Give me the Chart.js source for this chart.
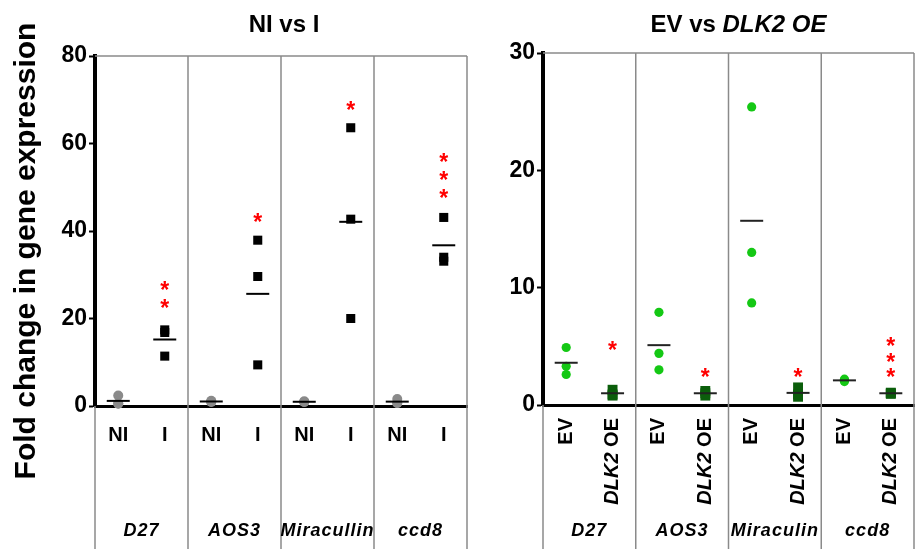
<!DOCTYPE html>
<html>
<head>
<meta charset="utf-8">
<script src="https://cdn.jsdelivr.net/npm/chart.js@4.4.0/dist/chart.umd.min.js"></script>
<style>
  body { margin: 0; background: #fff; }
  #painel { position: relative; width: 916px; height: 549px; }
  #painel canvas { position: absolute; top: 0; }
</style>
</head>
<body>
<div id="painel">
  <canvas id="graficoNI" width="470" height="549" style="left:0"></canvas>
  <canvas id="graficoEV" width="446" height="549" style="left:470px"></canvas>
</div>
<script>
const genesNI = ['D27', 'AOS3', 'Miracullin', 'ccd8'];
const genesEV = ['D27', 'AOS3', 'Miraculin', 'ccd8'];
const gruposNI = ['NI', 'I'];
const gruposEV = ['EV', 'DLK2 OE'];

const valoresNI = [[2.4, 0.6, 0.5], [1.2, 1.0, 0.9], [1.1, 0.9, 0.9], [1.6, 0.7, 0.7]];
const valoresI = [[17.4, 16.8, 11.4], [37.9, 29.6, 9.4], [63.6, 42.7, 20.0], [43.1, 34.0, 33.1]];
const valoresEV = [[4.9, 3.3, 2.6], [7.9, 4.4, 3.0], [25.4, 13.0, 8.7], [2.2, 2.1, 2.0]];
const valoresOE = [[1.3, 0.9, 0.8], [1.2, 1.0, 0.8], [1.5, 0.9, 0.7], [1.05, 1.0, 0.95]];

// asteriscos de significancia (quantidade e nivel do primeiro asterisco)
const estrelasI = [2, 1, 1, 3];
const nivelEstrelasI = [23.5, 43.3, 68.7, 48.6];
const estrelasOE = [1, 1, 1, 3];
const nivelEstrelasOE = [5.1, 2.8, 2.8, 2.8];

const ticksNI = [0, 20, 40, 60, 80];
const ticksEV = [0, 10, 20, 30];

const FONTE = '"Liberation Sans", Arial, sans-serif';

function media(lista) {
  return lista.reduce((a, b) => a + b, 0) / lista.length;
}

function textoPartes(ctx, partes, x, y, alinhamento) {
  // partes: [[texto, italico, fonte], ...]
  const larguras = partes.map((p) => {
    ctx.font = (p[1] ? 'italic ' : '') + p[2];
    return ctx.measureText(p[0]).width;
  });
  const total = larguras.reduce((a, b) => a + b, 0);
  let inicio = alinhamento === 'right' ? x - total : x - total / 2;
  ctx.textAlign = 'left';
  partes.forEach((p, i) => {
    ctx.font = (p[1] ? 'italic ' : '') + p[2];
    ctx.fillText(p[0], inicio, y);
    inicio += larguras[i];
  });
}

const pluginDesenhos = {
  id: 'desenhos',
  beforeDatasetsDraw(chart, args, opts) {
    const ctx = chart.ctx;
    const area = chart.chartArea;
    const xs = chart.scales.x;
    const h = chart.height;
    ctx.save();
    ctx.strokeStyle = '#8a8a8a';
    ctx.lineWidth = 1.5;
    ctx.beginPath();
    ctx.moveTo(area.left, area.top);
    ctx.lineTo(area.right, area.top);
    for (let i = 1; i < opts.genes.length; i++) {
      const xp = (xs.getPixelForValue(2 * i - 1) + xs.getPixelForValue(2 * i)) / 2;
      ctx.moveTo(xp, area.top);
      ctx.lineTo(xp, h);
    }
    ctx.moveTo(area.left, area.bottom);
    ctx.lineTo(area.left, h);
    ctx.moveTo(area.right, area.top);
    ctx.lineTo(area.right, h);
    ctx.stroke();
    ctx.restore();
  },
  afterDraw(chart, args, opts) {
    const ctx = chart.ctx;
    const area = chart.chartArea;
    const xs = chart.scales.x;
    const ys = chart.scales.y;
    ctx.save();
    ctx.fillStyle = '#000';
    ctx.textBaseline = 'alphabetic';

    // titulo
    textoPartes(ctx, opts.titulo.map((p) => [p[0], p[1], 'bold 24px ' + FONTE]),
      (area.left + area.right) / 2 + opts.deslocaTitulo, 32, 'center');

    // titulo do eixo y
    if (opts.tituloY) {
      ctx.save();
      ctx.translate(35, 251);
      ctx.rotate(-Math.PI / 2);
      ctx.font = 'bold 30px ' + FONTE;
      ctx.textAlign = 'center';
      ctx.fillText(opts.tituloY, 0, 0);
      ctx.restore();
    }

    opts.genes.forEach((gene, i) => {
      // rotulos dos grupos
      opts.grupos.forEach((grupo, j) => {
        const xp = xs.getPixelForValue(2 * i + j);
        if (opts.rotacionado) {
          ctx.save();
          ctx.translate(xp, area.bottom + 13);
          ctx.rotate(-Math.PI / 2);
          ctx.textBaseline = 'middle';
          const partes = grupo.split(' ');
          if (partes.length > 1) {
            textoPartes(ctx, [[partes[0], true, 'bold 20px ' + FONTE], [' ' + partes[1], false, 'bold 20px ' + FONTE]], 0, 0, 'right');
          } else {
            textoPartes(ctx, [[grupo, false, 'bold 20px ' + FONTE]], 0, 0, 'right');
          }
          ctx.restore();
        } else {
          ctx.font = 'bold 20px ' + FONTE;
          ctx.textAlign = 'center';
          ctx.fillText(grupo, xp, 441);
        }
      });

      // nome do gene
      const esq = i === 0 ? area.left : (xs.getPixelForValue(2 * i - 1) + xs.getPixelForValue(2 * i)) / 2;
      const dir = i === opts.genes.length - 1 ? area.right : (xs.getPixelForValue(2 * i + 1) + xs.getPixelForValue(2 * i + 2)) / 2;
      ctx.font = 'italic bold 18px ' + FONTE;
      ctx.letterSpacing = '1px';
      ctx.textAlign = 'center';
      ctx.fillText(gene, (esq + dir) / 2, 536);
      ctx.letterSpacing = '0px';

      // asteriscos
      ctx.fillStyle = '#ff0000';
      ctx.font = 'bold 23px ' + FONTE;
      const y0 = ys.getPixelForValue(opts.nivelEstrelas[i]);
      for (let k = 0; k < opts.estrelas[i]; k++) {
        ctx.fillText('*', xs.getPixelForValue(2 * i + 1), y0 - k * opts.espacoEstrela + 13);
      }
      ctx.fillStyle = '#000';
    });
    ctx.restore();
  },
};

function montaGrafico(idCanvas, cfg) {
  const rotulos = [];
  cfg.genes.forEach((gene) => {
    cfg.grupos.forEach((grupo) => rotulos.push(gene + '|' + grupo));
  });

  const pontosA = [];
  const pontosB = [];
  const medias = [];
  cfg.genes.forEach((gene, i) => {
    cfg.valoresA[i].forEach((v) => pontosA.push({ x: rotulos[2 * i], y: v }));
    cfg.valoresB[i].forEach((v) => pontosB.push({ x: rotulos[2 * i + 1], y: v }));
    medias.push({ x: rotulos[2 * i], y: media(cfg.valoresA[i]) });
    medias.push({ x: rotulos[2 * i + 1], y: media(cfg.valoresB[i]) });
  });

  const ticks = cfg.ticks;

  new Chart(document.getElementById(idCanvas), {
    type: 'line',
    data: {
      labels: rotulos,
      datasets: [
        {
          label: 'media',
          data: medias,
          showLine: false,
          pointStyle: 'line',
          pointRadius: 11.5,
          pointBorderWidth: 2,
          pointBorderColor: cfg.corMedia,
          order: 0,
          clip: false,
        },
        {
          label: cfg.grupos[0],
          data: pontosA,
          showLine: false,
          pointStyle: 'circle',
          pointRadius: cfg.raioA,
          pointBorderWidth: 0,
          pointBackgroundColor: cfg.corA,
          pointBorderColor: cfg.corA,
          order: 1,
          clip: false,
        },
        {
          label: cfg.grupos[1],
          data: pontosB,
          showLine: false,
          pointStyle: 'rect',
          pointRadius: cfg.raioB,
          pointBorderWidth: 0,
          pointBackgroundColor: cfg.corB,
          pointBorderColor: cfg.corB,
          order: 1,
          clip: false,
        },
      ],
    },
    options: {
      responsive: false,
      animation: false,
      devicePixelRatio: 1,
      events: [],
      layout: { autoPadding: false, padding: { top: cfg.topo, right: cfg.direita, left: 0, bottom: 0 } },
      plugins: {
        legend: { display: false },
        tooltip: { enabled: false },
        desenhos: cfg.desenhos,
      },
      scales: {
        x: {
          type: 'category',
          offset: true,
          grid: { display: false },
          border: { display: true, color: '#000', width: 3 },
          ticks: { display: false },
          afterFit: (s) => { s.height = cfg.alturaX; },
        },
        y: {
          min: ticks[0],
          max: ticks[ticks.length - 1],
          afterBuildTicks: (s) => { s.ticks = ticks.map((v) => ({ value: v })); },
          grid: { drawOnChartArea: false, drawTicks: true, tickLength: 6, tickColor: '#000', tickWidth: 2 },
          border: { display: true, color: '#000', width: 4 },
          ticks: { color: '#000', padding: 2, font: { family: FONTE, size: 23, weight: 'bold' } },
          afterFit: (s) => { s.width = cfg.larguraY; },
        },
      },
    },
    plugins: [pluginDesenhos],
  });
}

montaGrafico('graficoNI', {
  genes: genesNI,
  grupos: gruposNI,
  valoresA: valoresNI,
  valoresB: valoresI,
  ticks: ticksNI,
  corA: '#8a8a8a',
  corB: '#000000',
  corMedia: '#000000',
  raioA: 5,
  raioB: 6.4,
  topo: 56,
  direita: 3,
  larguraY: 95,
  alturaX: 143,
  desenhos: {
    titulo: [['NI vs I', false]],
    deslocaTitulo: 3,
    tituloY: 'Fold change in gene expression',
    genes: genesNI,
    grupos: gruposNI,
    rotacionado: false,
    estrelas: estrelasI,
    nivelEstrelas: nivelEstrelasI,
    espacoEstrela: 18,
  },
});

montaGrafico('graficoEV', {
  genes: genesEV,
  grupos: gruposEV,
  valoresA: valoresEV,
  valoresB: valoresOE,
  ticks: ticksEV,
  corA: '#14c814',
  corB: '#0b5e0b',
  corMedia: '#222222',
  raioA: 4.6,
  raioB: 7,
  topo: 53,
  direita: 2,
  larguraY: 73,
  alturaX: 144,
  desenhos: {
    titulo: [['EV vs ', false], ['DLK2 OE', true]],
    deslocaTitulo: 10,
    tituloY: null,
    genes: genesEV,
    grupos: gruposEV,
    rotacionado: true,
    estrelas: estrelasOE,
    nivelEstrelas: nivelEstrelasOE,
    espacoEstrela: 15.5,
  },
});
</script>
</body>
</html>
